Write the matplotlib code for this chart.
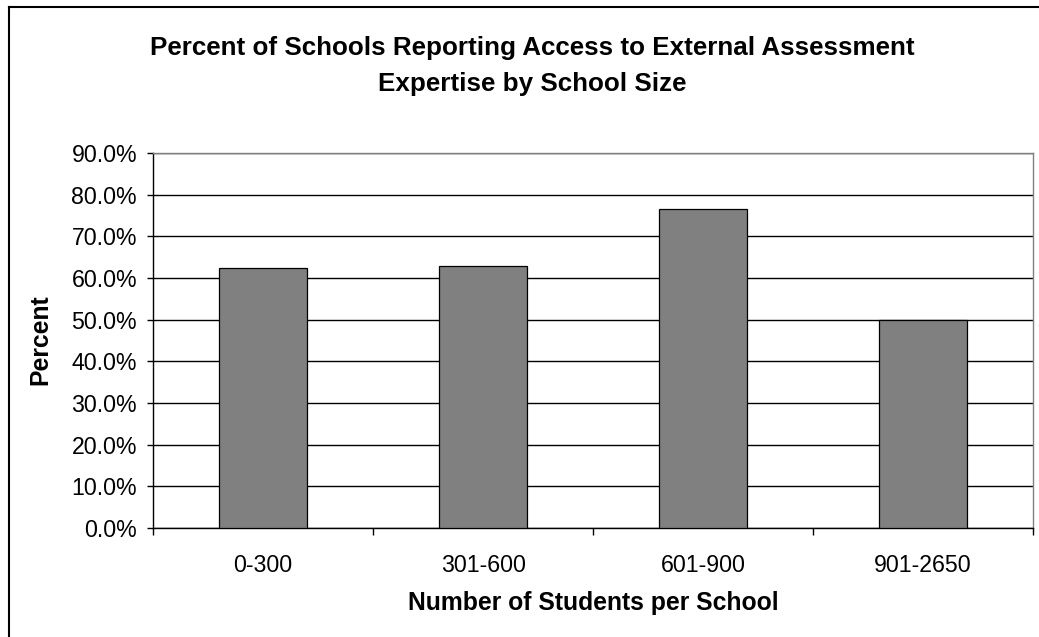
import matplotlib
matplotlib.use("Agg")
import matplotlib.pyplot as plt
from matplotlib.lines import Line2D
from matplotlib.ticker import FuncFormatter

plt.rcParams['font.family'] = ['Liberation Sans', 'DejaVu Sans']

# school size groups and share of schools with access (%)
sizes = ['0-300', '301-600', '601-900', '901-2650']
percent = [62.3, 63.0, 76.5, 50.0]

title_lines = ['Percent of Schools Reporting Access to External Assessment',
               'Expertise by School Size']

W, H = 1039, 637
fig = plt.figure(figsize=(W / 100, H / 100), dpi=100)

# outer chart frame (left and top edges)
fig.add_artist(Line2D([9 / W, 9 / W], [0, 1 - 7 / H], color='black', lw=1.5,
                      transform=fig.transFigure))
fig.add_artist(Line2D([9 / W, 1], [1 - 7 / H, 1 - 7 / H], color='black', lw=1.5,
                      transform=fig.transFigure))

left, right, top, bottom = 153, 1033, 153, 528
ax = fig.add_axes([left / W, 1 - bottom / H, (right - left) / W, (bottom - top) / H])

x = range(len(sizes))
ax.bar(x, percent, width=0.4, color='#808080', edgecolor='black', linewidth=0.9, zorder=3)

ax.set_xlim(-0.5, len(sizes) - 0.5)
ax.set_ylim(0, 90)
ax.set_yticks(range(0, 91, 10))
ax.yaxis.set_major_formatter(FuncFormatter(lambda v, p: f'{v:.1f}%'))
ax.yaxis.grid(True, color='black', linewidth=1.0, zorder=0)
ax.set_axisbelow(True)

ax.spines['top'].set_color('#808080')
ax.spines['right'].set_color('#808080')
ax.spines['top'].set_zorder(4)
for s in ['left', 'bottom']:
    ax.spines[s].set_color('black')
for s in ax.spines.values():
    s.set_linewidth(1.0)

ax.tick_params(axis='y', direction='out', length=4.3, width=1.0, pad=7.2,
               labelsize=16.7)

# tick marks at category boundaries, labels at category centres
ax.set_xticks([i - 0.5 for i in range(len(sizes) + 1)])
ax.set_xticklabels([])
ax.set_xticks(list(x), minor=True)
ax.set_xticklabels(sizes, minor=True)
ax.tick_params(axis='x', which='major', direction='out', length=5, width=1.0)
ax.tick_params(axis='x', which='minor', length=0, pad=18.5, labelsize=16.7)

fig.text(532 / W, 1 - 55 / H, title_lines[0], ha='center', va='baseline',
         fontsize=18.7, weight='bold')
fig.text(532 / W, 1 - 91 / H, title_lines[1], ha='center', va='baseline',
         fontsize=18.7, weight='bold')

fig.text(593 / W, 1 - 610 / H, 'Number of Students per School', ha='center',
         va='baseline', fontsize=17.8, weight='bold')
fig.text(40 / W, 1 - 340 / H, 'Percent', ha='center', va='center', rotation=90,
         fontsize=17.8, weight='bold')

fig.savefig('out.png', dpi=100)
